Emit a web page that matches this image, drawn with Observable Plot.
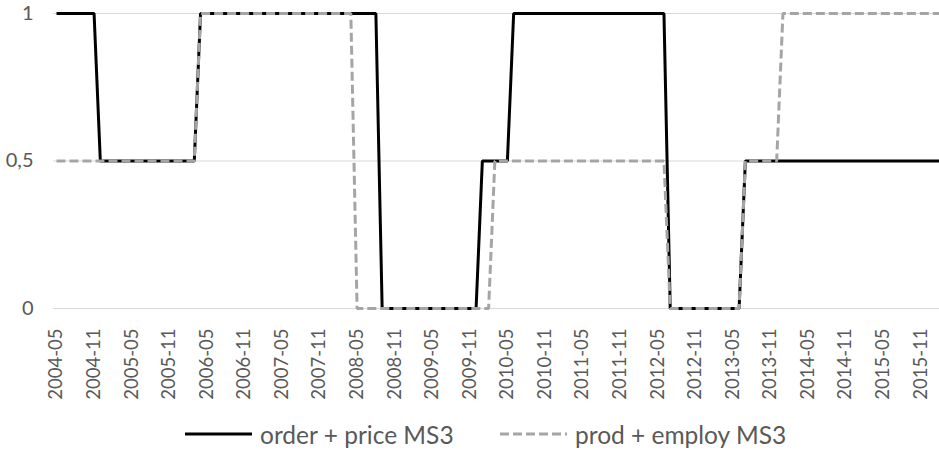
<!DOCTYPE html>
<html>
<head>
<meta charset="utf-8">
<script src="https://cdn.jsdelivr.net/npm/d3@7"></script>
<script src="https://cdn.jsdelivr.net/npm/@observablehq/plot@0.6"></script>
<style>
  html, body { margin: 0; padding: 0; background: #fff; }
  #wrap { position: relative; width: 939px; height: 450px; font-family: Lato, "Open Sans", sans-serif; color: #595959; }
  #legend { position: absolute; left: 0; top: 410px; width: 939px; height: 48px; }
  .item { position: absolute; top: 0; height: 48px; display: flex; align-items: center; font-size: 24.5px; white-space: nowrap; }
  .item svg { margin-right: 8px; }
</style>
</head>
<body>
<div id="wrap">
  <div id="chart"></div>
  <div id="legend"></div>
</div>
<script>
// Monthly categories 2004-05 .. 2016-02
const startMonth = "2004-05-01";
const endMonthExclusive = "2016-03-01";

// Tick labels shown on the x axis (every 6 months)
const tickLabels = [
  "2004-05","2004-11","2005-05","2005-11","2006-05","2006-11",
  "2007-05","2007-11","2008-05","2008-11","2009-05","2009-11",
  "2010-05","2010-11","2011-05","2011-11","2012-05","2012-11",
  "2013-05","2013-11","2014-05","2014-11","2015-05","2015-11"
];

// Series: order + price MS3 (one value per month, 2004-05 .. 2016-02)
const orderPrice = [
  1,1,1,1,1,1,1,
  0.5,0.5,0.5,0.5,0.5,0.5,0.5,0.5,0.5,0.5,0.5,0.5,0.5,0.5,0.5,0.5,
  1,1,1,1,1,1,1,1,1,1,1,1,1,1,1,1,1,1,1,1,1,1,1,1,1,1,1,1,1,
  0,0,0,0,0,0,0,0,0,0,0,0,0,0,0,0,
  0.5,0.5,0.5,0.5,0.5,
  1,1,1,1,1,1,1,1,1,1,1,1,1,1,1,1,1,1,1,1,1,1,1,1,1,
  0,0,0,0,0,0,0,0,0,0,0,0,
  0.5,0.5,0.5,0.5,0.5,0.5,0.5,0.5,0.5,0.5,0.5,0.5,0.5,0.5,0.5,0.5,
  0.5,0.5,0.5,0.5,0.5,0.5,0.5,0.5,0.5,0.5,0.5,0.5,0.5,0.5,0.5,0.5
];

// Series: prod + employ MS3
const prodEmploy = [
  0.5,0.5,0.5,0.5,0.5,0.5,0.5,0.5,0.5,0.5,0.5,0.5,0.5,0.5,0.5,0.5,0.5,0.5,0.5,0.5,0.5,0.5,0.5,
  1,1,1,1,1,1,1,1,1,1,1,1,1,1,1,1,1,1,1,1,1,1,1,1,1,
  0,0,0,0,0,0,0,0,0,0,0,0,0,0,0,0,0,0,0,0,0,0,
  0.5,0.5,0.5,0.5,0.5,0.5,0.5,0.5,0.5,0.5,0.5,0.5,0.5,0.5,0.5,0.5,0.5,0.5,0.5,0.5,0.5,0.5,0.5,0.5,0.5,0.5,0.5,0.5,
  0,0,0,0,0,0,0,0,0,0,0,0,
  0.5,0.5,0.5,0.5,0.5,0.5,
  1,1,1,1,1,1,1,1,1,1,1,1,1,1,1,1,1,1,1,1,1,1,1,1,1,1
];

const seriesNames = ["order + price MS3", "prod + employ MS3"];
const yTicks = [0, 0.5, 1];

const fmtMonth = d3.utcFormat("%Y-%m");
const months = d3.utcMonth.range(new Date(startMonth), new Date(endMonthExclusive)).map(fmtMonth);

const data = months.map((m, i) => ({month: m, order: orderPrice[i], prod: prodEmploy[i]}));

const chart = Plot.plot({
  width: 939,
  height: 410,
  marginLeft: 53,
  marginRight: 0,
  marginTop: 13,
  marginBottom: 102,
  style: {fontFamily: "Lato, 'Open Sans', sans-serif", fontSize: "19px", color: "#595959", background: "white"},
  x: {type: "point", domain: months, padding: 0, insetLeft: 3, label: null},
  y: {domain: [0, 1], label: null},
  marks: [
    Plot.ruleY(yTicks, {stroke: "#d9d9d9", strokeWidth: 1}),
    Plot.axisX(tickLabels, {tickSize: 0, tickPadding: 0, tickRotate: -90, dy: 20, label: null, fill: "#595959", fontSize: 18.5}),
    Plot.axisY(yTicks, {tickSize: 0, tickPadding: 0, dx: -20, tickFormat: d => String(d).replace(".", ","), label: null, fill: "#595959", fontSize: 20}),
    Plot.line(data, {x: "month", y: "order", stroke: "#000", strokeWidth: 3, strokeLinecap: "butt", strokeLinejoin: "miter"}),
    Plot.line(data, {x: "month", y: "prod", stroke: "#a5a5a5", strokeWidth: 3, strokeDasharray: "9,4", strokeLinecap: "butt", strokeLinejoin: "miter"})
  ]
});
document.getElementById("chart").appendChild(chart);

// Legend
const legend = document.getElementById("legend");
const items = [
  {name: seriesNames[0], left: 185, stroke: "#000", dash: null},
  {name: seriesNames[1], left: 500, stroke: "#a5a5a5", dash: "9,4"}
];
for (const it of items) {
  const div = document.createElement("div");
  div.className = "item";
  div.style.left = it.left + "px";
  div.innerHTML = `<svg width="67" height="6"><line x1="0" x2="67" y1="3" y2="3" stroke="${it.stroke}" stroke-width="3" ${it.dash ? `stroke-dasharray="${it.dash}"` : ""}/></svg><span>${it.name}</span>`;
  legend.appendChild(div);
}
</script>
</body>
</html>
